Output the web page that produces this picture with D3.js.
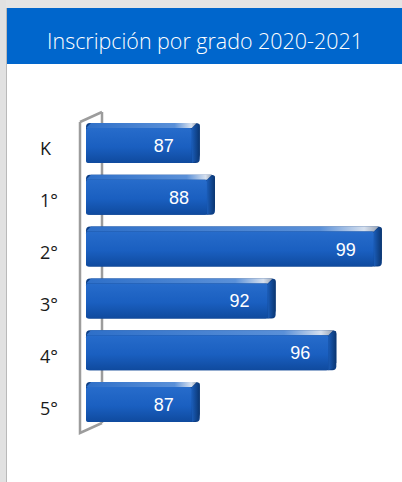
<!DOCTYPE html>
<html>
<head>
<meta charset="utf-8">
<script src="https://cdn.jsdelivr.net/npm/d3@7"></script>
<style>
  body { margin: 0; background: #ffffff; }
  svg { display: block; }
</style>
</head>
<body>
<script>
// chart data
var title = "Inscripción por grado 2020-2021";
var grades = ["K", "1°", "2°", "3°", "4°", "5°"];
var enrolled = [87, 88, 99, 92, 96, 87];
var xDomain = [79.5, 100];

var W = 402, H = 482;

var svg = d3.select("body").append("svg")
    .attr("width", W)
    .attr("height", H);

var defs = svg.append("defs");

// gradients for the 3d bars
var front = defs.append("linearGradient").attr("id", "front")
    .attr("x1", 0).attr("y1", 0).attr("x2", 0).attr("y2", 1);
front.append("stop").attr("offset", "0%").attr("stop-color", "#276ccb");
front.append("stop").attr("offset", "55%").attr("stop-color", "#1a5fc0");
front.append("stop").attr("offset", "100%").attr("stop-color", "#0f4a9e");

var top_ = defs.append("linearGradient").attr("id", "topface")
    .attr("x1", 0).attr("y1", 0).attr("x2", 1).attr("y2", 0);
top_.append("stop").attr("offset", "0%").attr("stop-color", "#2e6fc8");
top_.append("stop").attr("offset", "80%").attr("stop-color", "#5a90d8");
top_.append("stop").attr("offset", "95%").attr("stop-color", "#d6e0ee");
top_.append("stop").attr("offset", "100%").attr("stop-color", "#9aa4b4");

var side = defs.append("linearGradient").attr("id", "side")
    .attr("x1", 0).attr("y1", 0).attr("x2", 1).attr("y2", 0);
side.append("stop").attr("offset", "0%").attr("stop-color", "#1a5cb8");
side.append("stop").attr("offset", "100%").attr("stop-color", "#0a3570");

// frame: grey strips and blue header
svg.append("rect").attr("x", 0).attr("y", 0).attr("width", W).attr("height", 8).attr("fill", "#e4e4e4");
svg.append("rect").attr("x", 0).attr("y", 0).attr("width", 6).attr("height", H).attr("fill", "#e1e1e1");
svg.append("rect").attr("x", 6).attr("y", 8).attr("width", 1).attr("height", H - 8).attr("fill", "#b9b9b9");
svg.append("rect").attr("x", 7).attr("y", 8).attr("width", W - 7).attr("height", 56).attr("fill", "#0066cc");

var t = svg.append("text")
    .attr("x", 205)
    .attr("y", 49)
    .attr("text-anchor", "middle")
    .attr("fill", "#ffffff")
    .style("font-family", "'Open Sans', 'Noto Sans', sans-serif")
    .style("font-weight", 300)
    .style("font-size", "22px")
    .text(title);
// fit the title to the width seen in the picture
var tw = t.node().getComputedTextLength();
t.style("font-size", (22 * 316 / tw) + "px");

// scales
var x = d3.scaleLinear()
    .domain(xDomain)
    .range([86, 397]);
var y = d3.scaleBand()
    .domain(grades)
    .range([117, 428])
    .paddingInner(0.228)
    .paddingOuter(0.114);

// 3d wall behind the bars
var wallFront = 80, wallBack = 102, dz = 5;
var r = y.range();
var wall = svg.append("g")
    .attr("fill", "none")
    .attr("stroke", "#9c9c9c")
    .attr("stroke-width", 2.5);
wall.append("path")
    .attr("d", "M" + wallBack + "," + (r[1] - dz) + "V" + (r[0] - dz));
wall.append("path")
    .attr("d", "M" + wallFront + "," + (r[0] + dz) + "L" + wallBack + "," + (r[0] - dz)
        + "M" + wallFront + "," + (r[0] + dz) + "V" + (r[1] + dz)
        + "L" + wallBack + "," + (r[1] - dz));

// bars
var data = grades.map(function(g, i) { return {grade: g, value: enrolled[i]}; });
var h = y.bandwidth(), d = 5, s = 8;
var x0 = x(xDomain[0]);

var bars = svg.selectAll(".bar")
    .data(data)
    .enter().append("g")
    .attr("class", "bar");

bars.append("rect")
    .attr("x", x0)
    .attr("y", function(e) { return y(e.grade); })
    .attr("width", function(e) { return x(e.value) - x0; })
    .attr("height", h)
    .attr("rx", 4)
    .attr("fill", "#0d3f86");

bars.append("path")
    .attr("fill", "url(#side)")
    .attr("d", function(e) {
        var xr = x(e.value), yt = y(e.grade);
        return "M" + (xr - s) + "," + (yt + d) + "L" + (xr - 2) + "," + (yt + 1)
            + "Q" + xr + "," + yt + " " + xr + "," + (yt + 3)
            + "V" + (yt + h - d - 3)
            + "Q" + xr + "," + (yt + h - d) + " " + (xr - 3) + "," + (yt + h - 2)
            + "L" + (xr - s) + "," + (yt + h) + "Z";
    });

bars.append("path")
    .attr("fill", "url(#topface)")
    .attr("d", function(e) {
        var xr = x(e.value), yt = y(e.grade);
        return "M" + x0 + "," + (yt + d) + "L" + (x0 + d) + "," + yt
            + "L" + (xr - 3) + "," + yt + "L" + (xr - s) + "," + (yt + d) + "Z";
    });

bars.append("rect")
    .attr("x", x0)
    .attr("y", function(e) { return y(e.grade) + d; })
    .attr("width", function(e) { return x(e.value) - x0 - s; })
    .attr("height", h - d)
    .attr("rx", 2)
    .attr("fill", "url(#front)");

// value labels
bars.append("text")
    .attr("x", function(e) { return x(e.value) - 26; })
    .attr("y", function(e) { return y(e.grade) + d + (h - d) / 2; })
    .attr("dy", "0.36em")
    .attr("text-anchor", "end")
    .attr("fill", "#ffffff")
    .style("font-family", "'Liberation Sans', Arial, sans-serif")
    .style("font-size", "18px")
    .text(function(e) { return e.value; });

// category labels
svg.selectAll(".cat")
    .data(grades)
    .enter().append("text")
    .attr("class", "cat")
    .attr("x", 40)
    .attr("y", function(g) { return y(g) + h / 2 + 6; })
    .attr("dy", "0.36em")
    .attr("fill", "#1a1a1a")
    .style("font-family", "'Open Sans', 'Noto Sans', sans-serif")
    .style("font-size", "18px")
    .text(function(g) { return g; });
</script>
</body>
</html>
